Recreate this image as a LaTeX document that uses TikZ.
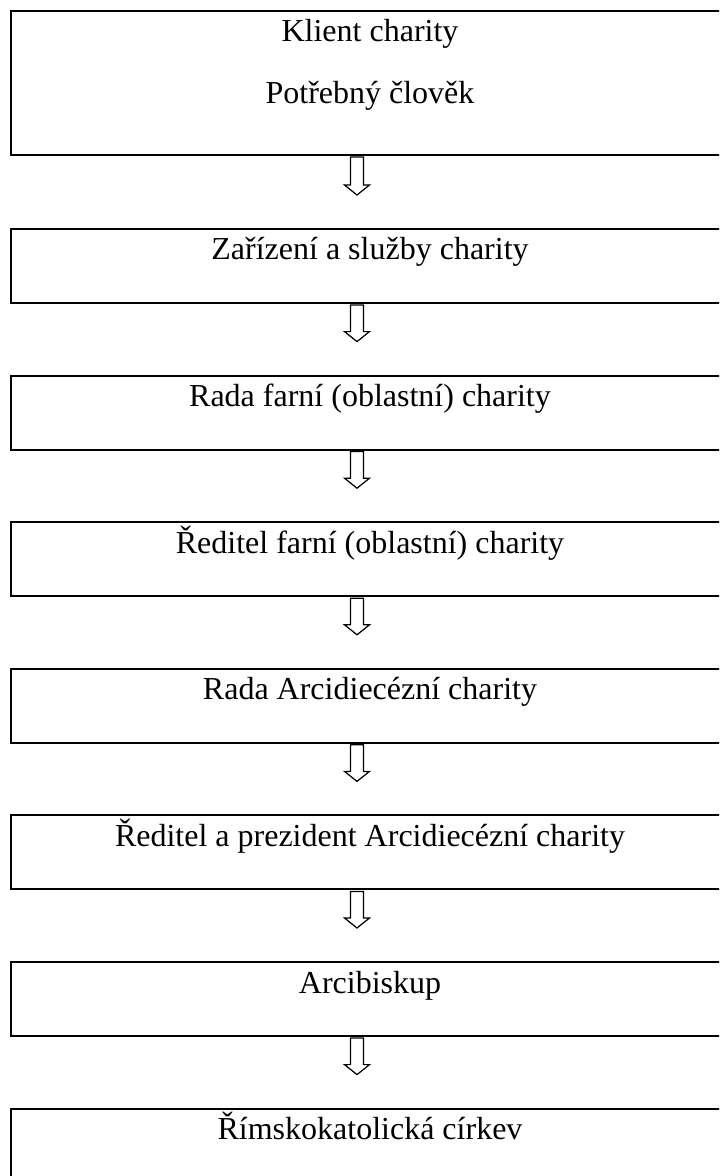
\documentclass[tikz,border=0pt]{standalone}
\usepackage{fontspec}
\setmainfont{Liberation Serif}
\usetikzlibrary{positioning,calc}

\tikzset{
  stupen/.style={draw, rectangle, line width=1pt, outer sep=0pt, inner xsep=0pt, inner ysep=0pt,
    minimum width=359pt, text height=15.5pt, text depth=21.5pt,
    font=\fontsize{16pt}{19pt}\selectfont},
  sipka/.style={draw, line width=0.6pt,
    to path={let \p1=($(\tikztostart.south)+(-6.5pt,-1pt)$),
                 \p2=($(\tikztotarget.north)+(-6.5pt,17pt)$) in
      ({\x1-3.25pt},\y1) -- ({\x1-3.25pt},{\y2+5pt}) -- ({\x1-6.25pt},{\y2+5pt})
      -- (\x1,\y2) -- ({\x1+6.25pt},{\y2+5pt}) -- ({\x1+3.25pt},{\y2+5pt})
      -- ({\x1+3.25pt},\y1) -- cycle}}
}

\begin{document}
\begin{tikzpicture}[x=0.5pt,y=-0.5pt,node distance=36.3pt]
	%\draw[help lines] (0,0) grid[step=50] (719,1176);
	\useasboundingbox (0,0) rectangle (719,1176);
	\clip (0,0) rectangle (719,1176);
	\node[stupen, text depth=56.5pt, anchor=north] (klient) at (370,11)
		{\begin{tabular}[t]{@{}c@{}}Klient charity\\[12pt]Potřebný člověk\end{tabular}};
	\node[stupen, below=37pt of klient] (zarizeni) {Zařízení a služby charity};
	\node[stupen, below=of zarizeni] (radafarni) {Rada farní (oblastní) charity};
	\node[stupen, below=of radafarni] (reditelfarni) {Ředitel farní (oblastní) charity};
	\node[stupen, below=of reditelfarni] (radaac) {Rada Arcidiecézní charity};
	\node[stupen, below=of radaac] (reditelac) {Ředitel a prezident Arcidiecézní charity};
	\node[stupen, below=of reditelac] (arcibiskup) {Arcibiskup};
	\node[stupen, below=of arcibiskup] (cirkev) {Římskokatolická církev};
	\foreach \a/\b in {klient/zarizeni, zarizeni/radafarni, radafarni/reditelfarni,
		reditelfarni/radaac, radaac/reditelac, reditelac/arcibiskup, arcibiskup/cirkev}
		\draw[sipka] (\a) to (\b);
\end{tikzpicture}
\end{document}
